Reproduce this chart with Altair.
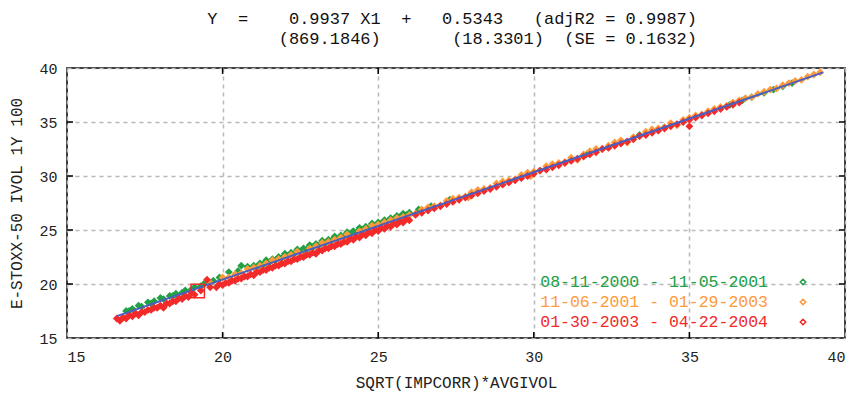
import altair as alt
import pandas as pd

# ---- data ----
green_x = [16.9, 17.1, 17.3, 17.6, 17.8, 18.0, 18.3, 18.5, 18.8, 19.1, 19.4, 19.7, 19.9, 20.2, 20.6,
           20.5, 20.8, 21.0, 21.2, 21.4, 21.6, 21.8, 22.0, 22.2, 22.4, 22.6, 22.8, 23.0, 23.2, 23.4,
           23.6, 23.8, 24.0, 24.2, 24.4, 24.6, 24.8, 25.0, 25.2, 25.4, 25.6, 25.8, 26.0, 26.3, 26.7,
           27.3, 28.0, 29.2, 30.6, 31.7, 32.6, 33.4, 34.2, 36.3, 36.7, 37.0, 37.4, 37.7, 38.0, 38.3,
           17.0, 17.4, 17.7, 18.1, 18.4, 18.7, 19.0, 19.3, 19.6, 21.1, 21.3, 21.5, 21.7, 21.9, 22.1,
           22.3, 22.5, 22.7, 22.9, 23.1, 23.3, 23.5, 23.7, 23.9, 24.1, 24.3, 24.5, 24.7, 24.9, 25.1,
           25.3, 25.5, 25.7, 25.9]
green_y = [17.5, 17.7, 18.0, 18.3, 18.4, 18.7, 18.9, 19.1, 19.4, 19.7, 20.0, 20.3, 20.6, 21.1, 21.7,
           21.2, 21.6, 21.7, 21.9, 22.2, 22.3, 22.5, 22.8, 22.9, 23.2, 23.3, 23.6, 23.7, 24.0, 24.1,
           24.4, 24.5, 24.8, 24.9, 25.2, 25.3, 25.6, 25.7, 25.9, 26.1, 26.3, 26.5, 26.6, 26.9, 27.2,
           27.8, 28.4, 29.5, 30.9, 32.0, 32.9, 33.8, 34.5, 36.6, 37.0, 37.3, 37.7, 38.0, 38.3, 38.6,
           17.5, 17.9, 18.2, 18.6, 18.9, 19.2, 19.5, 19.8, 20.1, 21.6, 21.8, 22.0, 22.2, 22.4, 22.6,
           22.8, 23.0, 23.2, 23.4, 23.6, 23.8, 24.0, 24.2, 24.4, 24.6, 24.8, 25.0, 25.2, 25.4, 25.6,
           25.8, 26.0, 26.2, 26.4]

orange_x = [19.6, 20.0, 20.4, 20.8, 21.2, 21.6, 22.0, 22.4, 22.8, 23.2, 23.6, 24.0, 24.4, 24.8, 25.2,
            25.6, 26.0, 26.4, 26.8, 27.2, 27.6, 28.0, 28.4, 28.8, 29.2, 29.6, 30.0, 30.4, 30.8, 31.2,
            31.6, 32.0, 32.4, 32.8, 33.2, 33.6, 34.0, 34.4, 34.8, 35.2, 35.6, 36.0, 36.4, 36.8, 37.2,
            37.6, 38.0, 38.4, 38.8, 39.2, 22.6, 24.2, 27.9, 29.9, 31.4, 33.0, 34.6,
            20.2, 20.6, 21.0, 21.4, 21.8, 22.2, 23.0, 23.4, 23.8, 24.6, 25.0, 25.4, 25.8, 26.2, 26.6,
            27.0, 27.4, 27.8, 28.2, 28.6, 29.0, 29.4, 29.8, 30.2, 30.6, 31.0, 31.8, 32.2, 32.6, 33.4,
            33.8, 34.2, 35.0, 35.4, 35.8, 36.2, 36.6, 37.0, 37.4, 37.8, 38.2, 38.6, 39.0]
orange_y = [20.1, 20.6, 20.9, 21.4, 21.7, 22.2, 22.5, 23.0, 23.3, 23.8, 24.1, 24.6, 24.9, 25.4, 25.7,
            26.1, 26.4, 26.9, 27.2, 27.7, 28.0, 28.5, 28.8, 29.3, 29.6, 30.1, 30.4, 30.9, 31.2, 31.7,
            32.0, 32.5, 32.8, 33.3, 33.6, 34.1, 34.4, 34.9, 35.2, 35.6, 36.0, 36.4, 36.8, 37.2, 37.6,
            38.0, 38.4, 38.8, 39.2, 39.6, 22.8, 24.3, 28.0, 30.0, 31.5, 33.1, 34.7,
            20.6, 21.0, 21.5, 21.9, 22.3, 22.7, 23.5, 23.9, 24.3, 25.1, 25.5, 25.9, 26.2, 26.5, 27.1,
            27.3, 27.9, 28.1, 28.7, 28.9, 29.5, 29.7, 30.3, 30.5, 31.1, 31.3, 32.3, 32.5, 33.1, 33.7,
            34.3, 34.5, 35.4, 35.7, 36.2, 36.5, 37.0, 37.3, 37.8, 38.1, 38.6, 38.9, 39.4]

red_x = [16.6, 16.8, 17.0, 17.2, 17.4, 17.6, 17.8, 18.0, 18.2, 18.4, 18.6, 18.8, 19.0, 19.3, 19.6,
         19.9, 19.5, 20.1, 20.3, 20.5, 20.7, 20.9, 21.1, 21.3, 21.5, 21.7, 21.9, 22.1, 22.3, 22.5,
         22.7, 22.9, 23.1, 23.3, 23.5, 23.7, 23.9, 24.1, 24.3, 24.5, 24.7, 24.9, 25.1, 25.3, 25.5,
         25.7, 25.9, 26.2, 26.6, 27.0, 27.4, 27.8, 28.2, 28.6, 29.0, 29.4, 29.8, 30.2, 30.6, 31.0,
         31.4, 31.8, 32.2, 32.6, 33.0, 33.4, 33.8, 34.2, 34.6, 35.0, 35.0, 35.4, 35.8, 36.2, 36.6,
         18.1, 17.3, 21.0, 23.0, 25.0,
         26.4, 26.8, 27.2, 27.6, 28.0, 28.4, 28.8, 29.2, 29.6, 30.0, 30.4, 30.8, 31.2, 31.6, 32.0,
         32.4, 32.8, 33.2, 33.6, 34.0, 34.4, 34.8, 35.2, 35.6, 36.0, 36.4,
         16.7, 16.9, 17.1, 17.5, 17.7, 17.9, 18.3, 18.5, 18.7, 18.9, 19.1, 19.8, 20.0, 20.2, 20.4,
         20.6, 20.8, 21.2, 21.4, 21.6, 21.8, 22.0, 22.2, 22.4, 22.6, 22.8, 23.2, 23.4, 23.6, 23.8,
         24.0, 24.2, 24.4, 24.6, 24.8, 25.2, 25.4, 25.6, 25.8, 26.0]
red_y = [16.8, 16.9, 17.1, 17.3, 17.4, 17.6, 17.8, 18.0, 18.2, 18.4, 18.7, 18.9, 19.2, 19.4, 19.7,
         20.0, 20.4, 20.1, 20.3, 20.5, 20.7, 20.9, 21.1, 21.3, 21.5, 21.7, 21.9, 22.1, 22.3, 22.5,
         22.7, 22.9, 23.1, 23.3, 23.5, 23.7, 23.9, 24.2, 24.4, 24.6, 24.8, 25.0, 25.2, 25.4, 25.6,
         25.8, 26.0, 26.4, 26.8, 27.2, 27.6, 28.0, 28.4, 28.8, 29.2, 29.6, 30.0, 30.5, 30.8, 31.2,
         31.6, 32.0, 32.5, 32.8, 33.2, 33.7, 34.0, 34.4, 34.8, 35.2, 34.6, 35.6, 36.0, 36.4, 36.8,
         17.8, 17.1, 20.8, 22.8, 24.9,
         26.6, 27.0, 27.4, 27.8, 28.2, 28.6, 29.0, 29.4, 29.8, 30.2, 30.6, 31.0, 31.4, 31.8, 32.2,
         32.6, 33.0, 33.4, 33.8, 34.2, 34.6, 35.0, 35.4, 35.8, 36.2, 36.6,
         16.6, 16.8, 17.0, 17.4, 17.6, 17.8, 18.2, 18.4, 18.6, 18.8, 19.0, 19.7, 19.9, 20.1, 20.3,
         20.5, 20.7, 21.1, 21.3, 21.5, 21.7, 21.9, 22.1, 22.3, 22.5, 22.7, 23.1, 23.3, 23.5, 23.7,
         23.9, 24.1, 24.3, 24.5, 24.7, 25.1, 25.3, 25.5, 25.7, 25.9]

mark_x = [19.2]
mark_y = [19.35]

fit_x = [16.6, 39.3]
fit_y = [17.03, 39.59]

series_labels = ["08-11-2000 - 11-05-2001", "11-06-2001 - 01-29-2003", "01-30-2003 - 04-22-2004"]
series_colors = ["#22a046", "#ff9a3a", "#f22a2a"]

tick_vals = [20, 25, 30, 35]
axis_vals = [15, 20, 25, 30, 35, 40]

title_lines = [
    "Y  =    0.9937 X1  +   0.5343   (adjR2 = 0.9987)",
    "(869.1846)       (18.3301)  (SE = 0.1632)",
]
title_lines = [s.replace(" ", "\u00a0") for s in title_lines]

# ---- tables ----
rows = []
for lab, xs_, ys_ in zip(series_labels, [green_x, orange_x, red_x], [green_y, orange_y, red_y]):
    for a, b in zip(xs_, ys_):
        rows.append({"x": a, "y": b, "series": lab})
pts = pd.DataFrame(rows)
fit = pd.DataFrame({"x": fit_x, "y": fit_y})
mk = pd.DataFrame({"x": mark_x, "y": mark_y})
ticks = pd.DataFrame({"t": tick_vals})
leg = pd.DataFrame({"label": series_labels, "color": series_colors, "i": [0, 1, 2]})

W, H = 778, 270
xs = alt.Scale(domain=[15, 40], nice=False, zero=False)
ys = alt.Scale(domain=[15, 40], nice=False, zero=False)

MONO = "Liberation Mono"

x_axis = alt.Axis(values=axis_vals, title="SQRT(IMPCORR)*AVGIVOL", grid=True, gridDash=[4, 4],
                  gridColor="#b8b8b8", gridWidth=1.5, ticks=False, domain=False, labelPadding=11,
                  labelFont=MONO, labelFontSize=15, labelColor="#222222", titleFont=MONO,
                  titleFontSize=16, titleFontWeight="normal", titleColor="#222222", titlePadding=10)
y_axis = alt.Axis(values=axis_vals, title="E-STOXX-50 IVOL 1Y 100", grid=True, gridDash=[4, 4],
                  gridColor="#b8b8b8", gridWidth=1.5, ticks=False, domain=False, labelPadding=10,
                  labelFont=MONO, labelFontSize=15, labelColor="#222222", titleFont=MONO,
                  titleFontSize=16, titleFontWeight="normal", titleColor="#222222", titlePadding=14)

X = lambda f: alt.X(f, scale=xs, axis=x_axis)
Y = lambda f: alt.Y(f, scale=ys, axis=y_axis)

points = alt.Chart(pts).mark_point(shape="diamond", filled=True, size=62, opacity=1).encode(
    x=X("x:Q"), y=Y("y:Q"),
    color=alt.Color("series:N", scale=alt.Scale(domain=series_labels, range=series_colors), legend=None),
)

fit_line = alt.Chart(fit).mark_line(color="#4a5fc0", strokeWidth=2).encode(x=X("x:Q"), y=Y("y:Q"))

marker = alt.Chart(mk).mark_point(shape="square", filled=False, size=180, color="#f22a2a",
                                  strokeWidth=1.5, opacity=1).encode(x=X("x:Q"), y=Y("y:Q"))

tk = 6
xt_bot = alt.Chart(ticks).mark_rule(color="black", strokeWidth=1.5).encode(
    x=X("t:Q"), y=alt.value(H), y2=alt.value(H - tk))
xt_top = alt.Chart(ticks).mark_rule(color="black", strokeWidth=1.5).encode(
    x=X("t:Q"), y=alt.value(0), y2=alt.value(tk))
yt_l = alt.Chart(ticks).mark_rule(color="black", strokeWidth=1.5).encode(
    y=Y("t:Q"), x=alt.value(0), x2=alt.value(tk))
yt_r = alt.Chart(ticks).mark_rule(color="black", strokeWidth=1.5).encode(
    y=Y("t:Q"), x=alt.value(W), x2=alt.value(W - tk))

leg_text = alt.Chart(leg).transform_calculate(py="214 + datum.i * 20").mark_text(
    align="right", baseline="middle", font=MONO, fontSize=16.5).encode(
    x=alt.value(701), y=alt.Y("py:Q", scale=None, axis=None), text="label:N",
    color=alt.Color("color:N", scale=None))
leg_sym = alt.Chart(leg).transform_calculate(py="214 + datum.i * 20").mark_point(
    shape="diamond", filled=False, size=30, strokeWidth=1.5, opacity=1).encode(
    x=alt.value(736), y=alt.Y("py:Q", scale=None, axis=None), color=alt.Color("color:N", scale=None))

chart = alt.layer(points, fit_line, marker, xt_bot, xt_top, yt_l, yt_r, leg_text, leg_sym).properties(
    width=W, height=H,
    background="white",
    title=alt.TitleParams(text=title_lines, font=MONO, fontSize=17, fontWeight="normal",
                          color="#111111", anchor="middle", align="right", dx=241,
                          offset=13, lineHeight=20),
    autosize=alt.AutoSizeParams(type="none"),
    padding={"left": 59, "top": 60, "right": 5, "bottom": 58},
).configure_view(stroke="black", strokeWidth=1.5)

chart.save("out.html", embed_options={"renderer": "svg", "actions": False})
